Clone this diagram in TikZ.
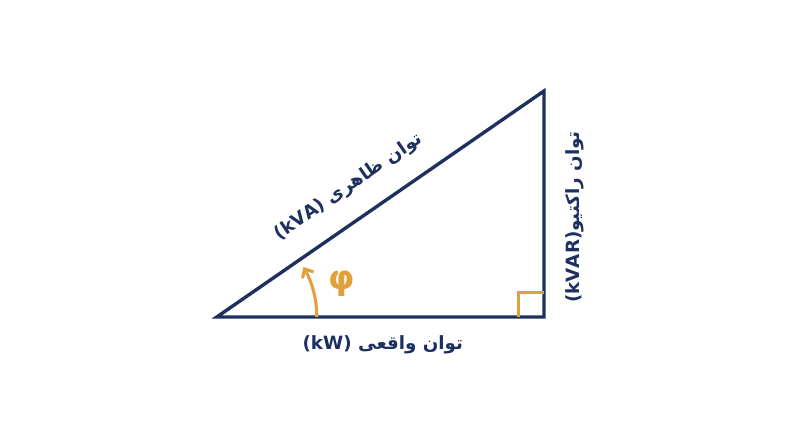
\documentclass[tikz,border=0pt]{standalone}
\usepackage{fontspec}
\usepackage{xcolor}
\usetikzlibrary{
		calc,
		arrows.meta,
		positioning
	}
\TeXXeTstate=1
\newfontfamily\arabicfont[Script=Arabic]{DejaVu Sans}
\setmainfont{DejaVu Sans}
\definecolor{navy}{RGB}{30,48,95}
\definecolor{amber}{RGB}{226,160,58}
\tikzset{
		>={Straight Barb[length=5pt,width=9pt]},
		side/.style={draw=navy, line width=2.4pt, line join=miter},
		anglemark/.style={draw=amber, line width=2.2pt},
		label text/.style={text=navy, font=\arabicfont\bfseries\fontsize{13}{15}\selectfont}
	}

\begin{document}
\begin{tikzpicture}
        \useasboundingbox (0,0) rectangle (20,11.175);

        % the corners of the triangle
        \coordinate (a) at (5.42,3.25);
        \coordinate (b) at (13.6,3.25);
        \coordinate (c) at (13.6,8.9);

        % draw the triangle
        \draw[side] (a) -- (b) -- (c) -- cycle;

        % the right angle and the angle phi
        \draw[anglemark] ($(b)+(-0.63,0)$) |- ($(b)+(0,0.62)$);
        \draw[anglemark,->] ($(a)+(2.5,0)$) arc (0:30:2.5);
        \node[text=amber, font=\bfseries\fontsize{24}{26}\selectfont] (phi) at (8.55,4.08) {φ};

        % the texts
        \node[label text, rotate=34.6] (kva) at (8.72,6.5) {\beginR توان ظاهری \beginL(kVA)\endL\endR};
        \node[label text] (kw) at (9.57,2.55) {\beginR توان واقعی \beginL(kW)\endL\endR};
        \node[label text, rotate=90] (kvar) at (14.38,5.75) {\beginR توان راکتیو\beginL(kVAR)\endL\endR};

    \end{tikzpicture}
\end{document}
